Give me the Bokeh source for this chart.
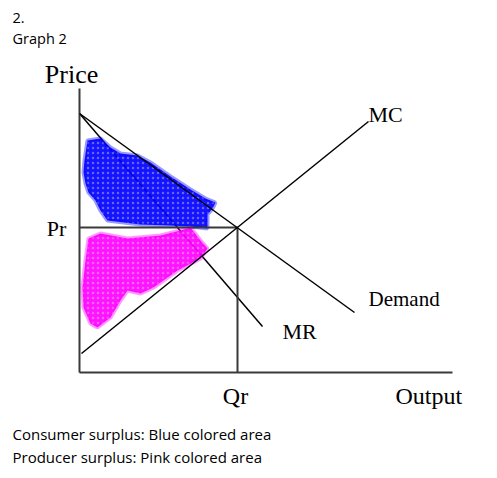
from bokeh.plotting import figure
from bokeh.models import Range1d
from bokeh.embed import file_html
from bokeh.resources import INLINE
from bokeh.core.properties import value

# Diagram units: origin at the axes' corner (roughly one unit per pixel)
axis_x_end = 373
axis_y_top = 284
price_r = 145
qty_r = 158

demand_x = [0, 275]
demand_y = [259, 60]
mr_x = [0, 183]
mr_y = [259, 46]
mc_x = [2, 289]
mc_y = [19, 251]

# Hand-coloured surplus areas (outline of the scribbles)
cs_x = [5, 8, 21, 31, 41, 58, 71, 91, 111, 126, 136, 133, 128, 128, 111, 91, 61, 28, 21, 16, 9, 6, 4]
cs_y = [212, 232, 234, 225, 219, 217, 210, 196, 183, 174, 170, 164, 158, 144, 146, 147, 148, 152, 162, 172, 180, 189, 200]
ps_x = [9, 21, 48, 81, 101, 111, 121, 128, 121, 98, 74, 61, 48, 41, 31, 18, 11, 4, 3, 6]
ps_y = [134, 139, 134, 137, 142, 145, 132, 124, 114, 102, 85, 79, 82, 72, 55, 45, 49, 65, 85, 112]

header_lines = ["2.", "Graph 2"]
note_lines = ["Consumer surplus: Blue colored area", "Producer surplus: Pink colored area"]

p = figure(width=497, height=478, output_backend="svg", toolbar_location=None,
           x_range=Range1d(-79, 418), y_range=Range1d(-106, 372),
           min_border=0, outline_line_color=None)
p.axis.visible = False
p.grid.visible = False
p.background_fill_color = "white"
p.border_fill_color = "white"

axcol = "#3a3a3a"

# MR is drawn first so the scribbles cover it, as in the original
p.line(mr_x, mr_y, line_color="black", line_width=1.5)

# surplus scribbles
p.patch(cs_x, cs_y, fill_color="#0000ff", fill_alpha=0.92, line_color="#0000ff", line_alpha=0.4, line_width=4,
        hatch_pattern="dot", hatch_color="white", hatch_alpha=0.35, hatch_scale=5, hatch_weight=1)
p.patch(ps_x, ps_y, fill_color="#ff00ff", fill_alpha=0.92, line_color="#ff00ff", line_alpha=0.4, line_width=4,
        hatch_pattern="dot", hatch_color="white", hatch_alpha=0.35, hatch_scale=5, hatch_weight=1)

# axes
p.line([0, 0], [0, axis_y_top], line_color=axcol, line_width=2)
p.line([0, axis_x_end], [0, 0], line_color=axcol, line_width=2)

# reference lines
p.line([0, qty_r], [price_r, price_r], line_color=axcol, line_width=2)
p.line([qty_r, qty_r], [0, price_r], line_color=axcol, line_width=2)

# curves
p.line(demand_x, demand_y, line_color="black", line_width=1.5)
p.line(mc_x, mc_y, line_color="black", line_width=1.5)

serif = value("Liberation Serif")
sans = value("Open Sans")

p.text(x=[-8], y=[298], text=["Price"], text_font=serif, text_font_size="26px",
       text_align="center", text_baseline="middle", text_color="black")
p.text(x=[-23], y=[144], text=["Pr"], text_font=serif, text_font_size="22px",
       text_align="center", text_baseline="middle", text_color="black")
p.text(x=[289], y=[258], text=["MC"], text_font=serif, text_font_size="22px",
       text_align="left", text_baseline="middle", text_color="black")
p.text(x=[289], y=[74], text=["Demand"], text_font=serif, text_font_size="21px",
       text_align="left", text_baseline="middle", text_color="black")
p.text(x=[203], y=[41], text=["MR"], text_font=serif, text_font_size="22px",
       text_align="left", text_baseline="middle", text_color="black")
p.text(x=[156], y=[-23], text=["Qr"], text_font=serif, text_font_size="24px",
       text_align="center", text_baseline="middle", text_color="black")
p.text(x=[316], y=[-23], text=["Output"], text_font=serif, text_font_size="24px",
       text_align="left", text_baseline="middle", text_color="black")

p.text(x=[-67, -67], y=[355, 334], text=header_lines, text_font=sans, text_font_size="14.5px",
       text_align="left", text_baseline="middle", text_color="black")
p.text(x=[-67, -67], y=[-61, -84], text=note_lines, text_font=sans, text_font_size="15px",
       text_align="left", text_baseline="middle", text_color="black")

open("out.html", "w").write(file_html(p, INLINE))
